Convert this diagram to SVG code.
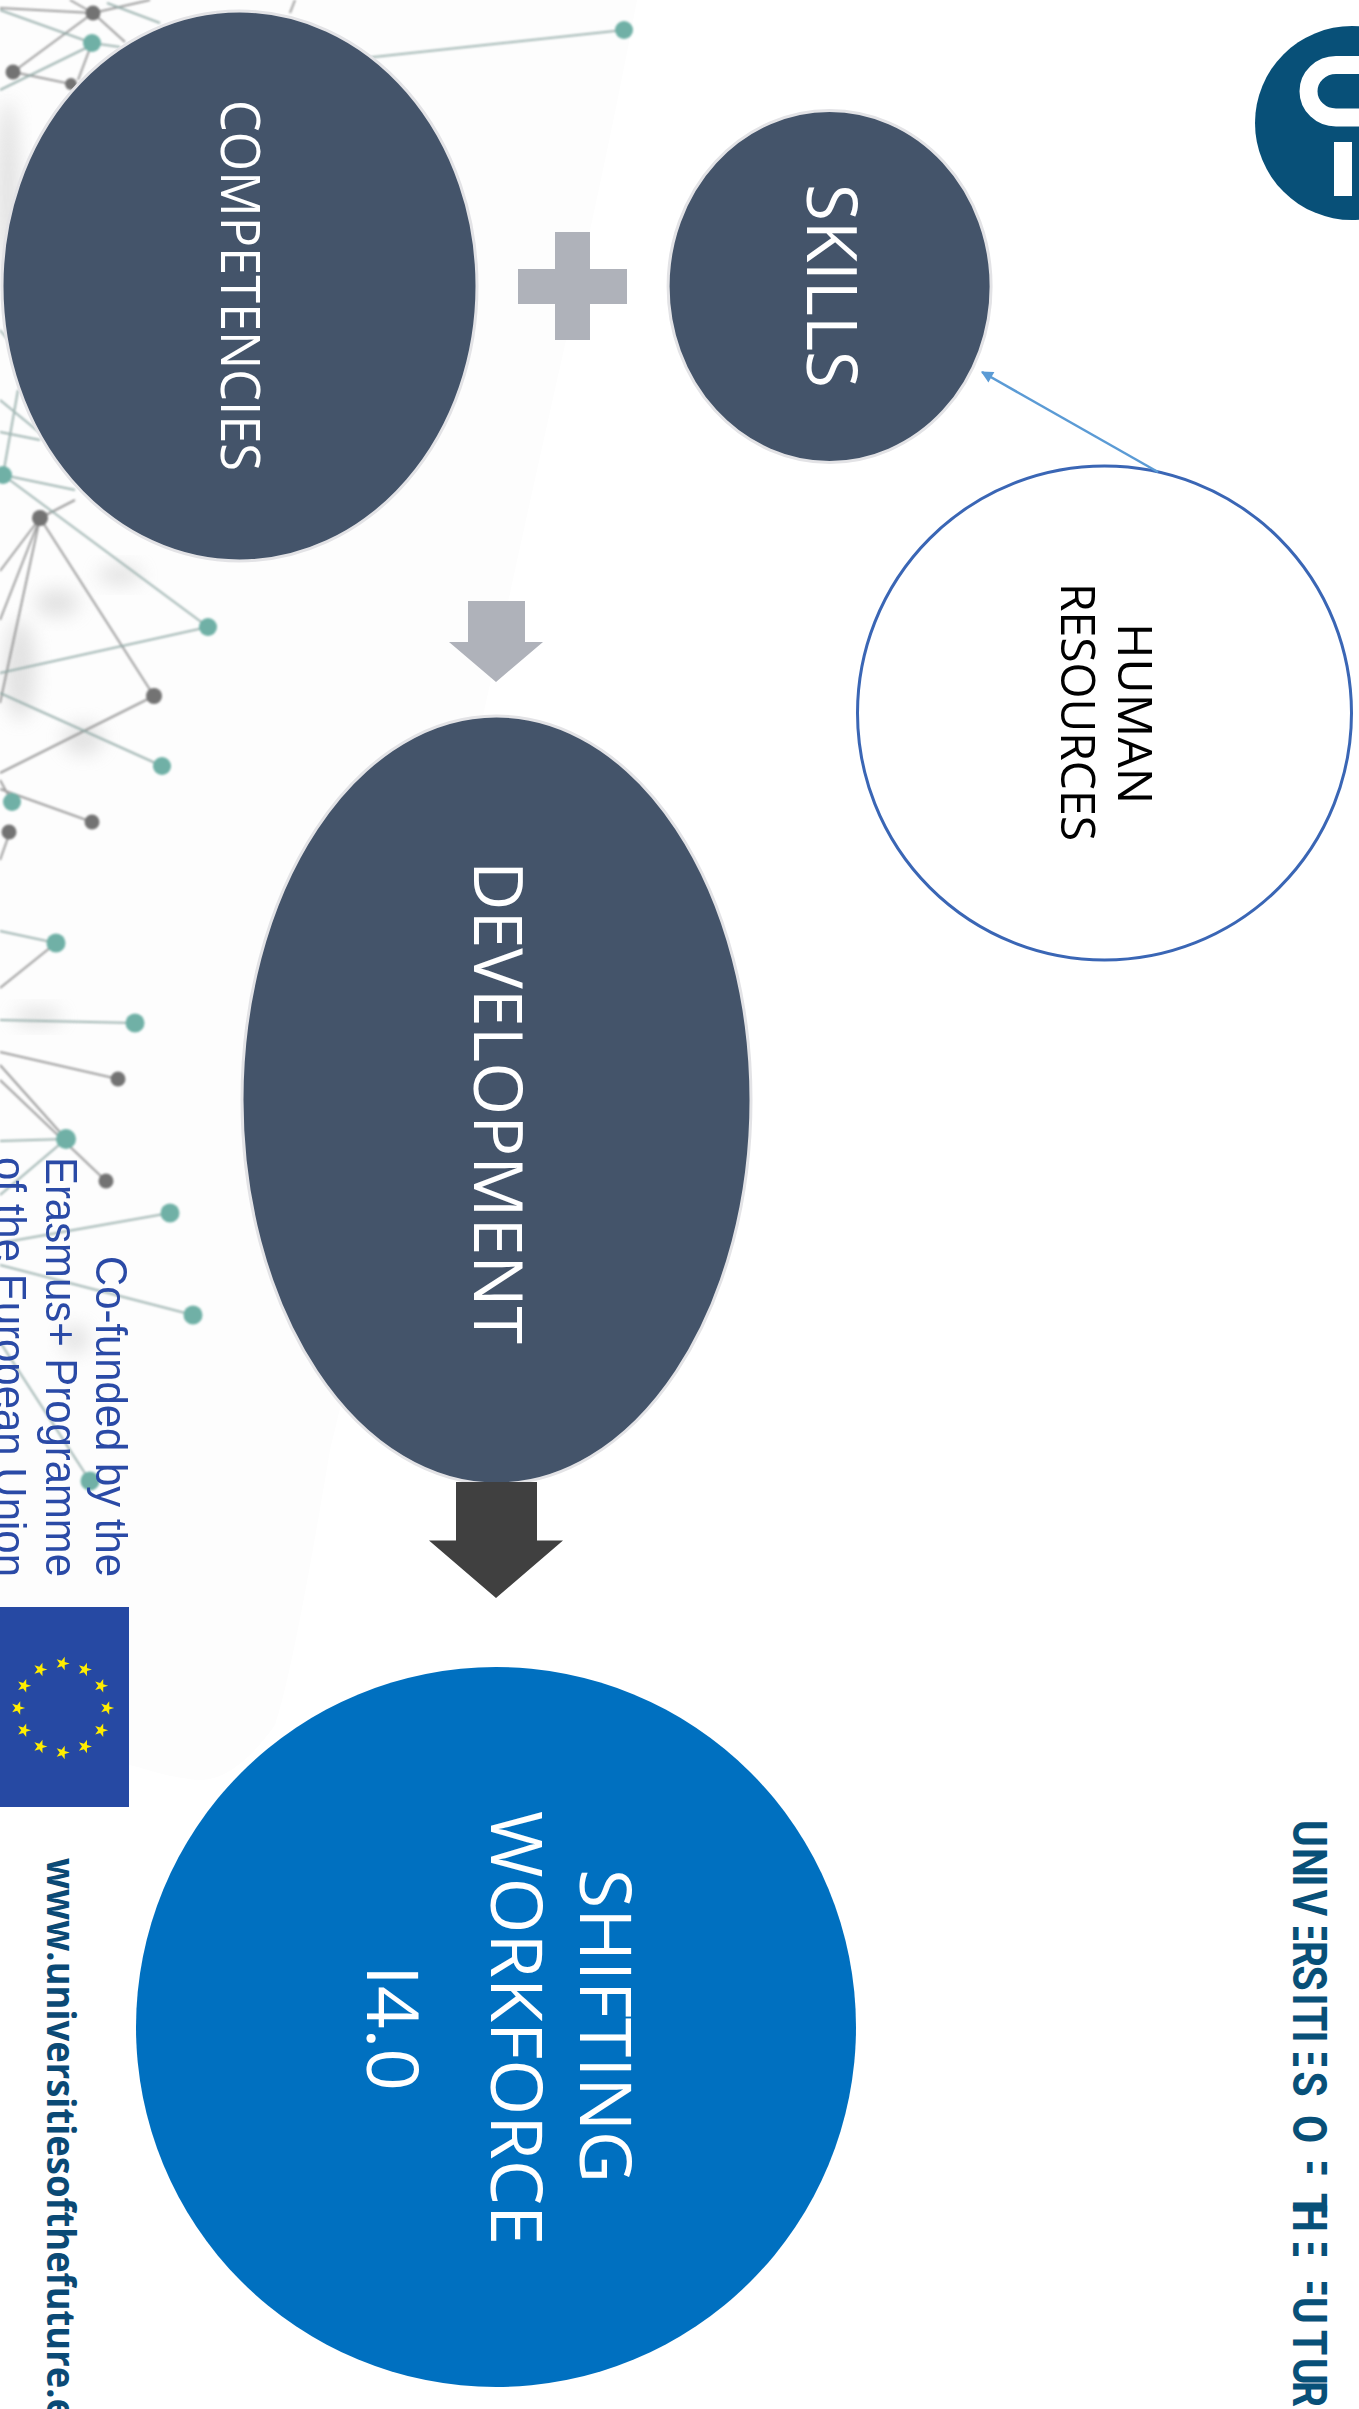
<svg xmlns="http://www.w3.org/2000/svg" width="1359" height="2409" viewBox="0 0 1359 2409">
<style>
.n{fill:#44546a;stroke:#e3e3e6;stroke-width:3}
.w{fill:#fff;font-family:"Open Sans","DejaVu Sans",sans-serif}
.k{fill:#000;font-family:"Open Sans","DejaVu Sans",sans-serif;font-size:48px}
.eu{fill:#2a4aa6;font-family:"Liberation Sans",Arial,sans-serif;font-size:45px}
.lg{stroke:#8c8c8c;stroke-width:2;fill:none;opacity:.85}
.lt{stroke:#8fa8a4;stroke-width:2;fill:none;opacity:.85}
.dg{fill:#737373}
.dt{fill:#6fb0a6}
.pale{fill:#b3b3b3;filter:url(#b)}
.cut{fill:#fff}
</style>
<defs>
<filter id="b" x="-50%" y="-50%" width="200%" height="200%"><feGaussianBlur stdDeviation="9"/></filter>
<filter id="s" x="-5%" y="-5%" width="110%" height="110%"><feGaussianBlur stdDeviation="0.8"/></filter>
<polygon id="star" points="7.2,0 2.23,1.62 2.22,6.85 -0.85,2.63 -5.82,4.24 -2.76,0 -5.82,-4.24 -0.85,-2.63 2.22,-6.85 2.23,-1.62" fill="#ffed00"/>
<marker id="ah" viewBox="0 0 10 10" refX="9" refY="5" markerWidth="16" markerHeight="12" markerUnits="userSpaceOnUse" orient="auto"><path d="M0 0L10 5L0 10Z" fill="#5b9bd5"/></marker>
</defs>
<rect width="1359" height="2409" fill="#fff"/>
<g id="background">
<path d="M637 0C600 200 540 450 500 640C440 900 380 1250 330 1450C310 1570 290 1680 275 1725C250 1760 225 1780 200 1780C170 1778 150 1770 130 1765L0 1765V0Z" fill="#fdfdfd"/>
<g opacity=".35">
<ellipse class="pale" cx="120" cy="575" rx="22" ry="10"/>
<ellipse class="pale" cx="83" cy="739" rx="20" ry="16"/>
<ellipse class="pale" cx="57" cy="603" rx="22" ry="14"/>
<ellipse class="pale" cx="38" cy="1017" rx="24" ry="9"/>
<ellipse class="pale" cx="75" cy="1339" rx="14" ry="14"/>
<ellipse class="pale" cx="8" cy="190" rx="12" ry="90"/>
<ellipse class="pale" cx="20" cy="670" rx="16" ry="50"/>
</g>
<g filter="url(#s)">
<path class="lg" d="M93 13L13 72M13 72L71 84M92 43L78 80M93 13L125 42M0 8L93 13M70 0L93 13M93 13L150 0M295 0L290 13"/>
<path class="lt" d="M0 90L92 45M0 10L92 43M107 3L160 23M92 43L120 47M624 30L300 65"/>
<path class="lg" d="M40 518L154 696M40 518L0 703M40 518L0 571M40 518L0 620M40 518L75 500M154 696L0 773M92 822L0 789M10 832L0 860M12 802L0 780"/>
<path class="lt" d="M3 475L208 627M208 627L0 673M162 766L0 693M18 390L3 475M0 400L45 437M0 432L40 440M3 475L75 490M0 330L40 380"/>
<path class="lt" d="M0 931L56 943M0 1020L135 1023M0 1141L66 1139M0 1195L66 1139M170 1213L0 1243M193 1315L0 1265M90 1481L0 1342"/>
<path class="lg" d="M0 988L56 943M0 1052L118 1079M0 1065L66 1139M0 1080L106 1181"/>
<circle class="dg" cx="93" cy="13" r="7.5"/><circle class="dt" cx="92" cy="43" r="9"/><circle class="dg" cx="13" cy="72" r="7.5"/><circle class="dg" cx="71" cy="84" r="6"/>
<circle class="dt" cx="624" cy="30" r="9"/><circle class="dt" cx="3" cy="475" r="9"/><circle class="dg" cx="40" cy="518" r="8"/><circle class="dt" cx="208" cy="627" r="9"/>
<circle class="dg" cx="154" cy="696" r="8"/><circle class="dt" cx="162" cy="766" r="9"/><circle class="dt" cx="12" cy="802" r="9"/><circle class="dg" cx="92" cy="822" r="7.5"/><circle class="dg" cx="9" cy="832" r="7.5"/>
<circle class="dt" cx="56" cy="943" r="9.5"/><circle class="dt" cx="135" cy="1023" r="9.5"/><circle class="dg" cx="118" cy="1079" r="7.5"/><circle class="dt" cx="66" cy="1139" r="10"/><circle class="dg" cx="106" cy="1181" r="7.5"/><circle class="dt" cx="170" cy="1213" r="9.5"/><circle class="dt" cx="193" cy="1315" r="9.5"/><circle class="dt" cx="90" cy="1481" r="9.5"/>
</g>
</g>
<g id="funding">
<text class="eu" transform="translate(96,1256) rotate(90)" textLength="321" lengthAdjust="spacingAndGlyphs">Co-funded by the</text>
<text class="eu" transform="translate(46,1157) rotate(90)" textLength="420" lengthAdjust="spacingAndGlyphs">Erasmus+ Programme</text>
<text class="eu" transform="translate(-5,1157) rotate(90)" textLength="420" lengthAdjust="spacingAndGlyphs">of the European Union</text>
<rect x="0" y="1607" width="129" height="200" fill="#2649a3"/>
<use href="#star" x="62.5" y="1663.5"/><use href="#star" x="84.75" y="1669.5"/><use href="#star" x="101" y="1685.75"/><use href="#star" x="107" y="1708"/><use href="#star" x="101" y="1730.25"/><use href="#star" x="84.75" y="1746.5"/><use href="#star" x="62.5" y="1752.5"/><use href="#star" x="40.25" y="1746.5"/><use href="#star" x="24" y="1730.25"/><use href="#star" x="18" y="1708"/><use href="#star" x="24" y="1685.75"/><use href="#star" x="40.25" y="1669.5"/>
<text transform="translate(47,1858) rotate(90)" font-family="'Open Sans','DejaVu Sans',sans-serif" font-weight="700" font-size="39" fill="#0b4a75" textLength="586" lengthAdjust="spacingAndGlyphs">www.universitiesofthefuture.eu</text>
</g>
<g id="logo">
<circle cx="1352" cy="123" r="97" fill="#085078"/>
<path d="M1360 65H1336A27.5 26.25 0 0 0 1336 117.5H1360" fill="none" stroke="#fff" stroke-width="18"/>
<rect x="1334" y="142" width="18" height="54" fill="#fff"/>
<text transform="translate(1293,0) rotate(90) scale(.85,1)" font-family="Roboto,'Open Sans',sans-serif" font-weight="700" font-size="48" fill="#085078" x="2141.2 2174.1 2205.3 2222.9 2256.5 2283.5 2312.4 2345.3 2360 2388.8 2404.7 2437.1 2470.6 2488.2 2532.9 2564.7 2580 2591.8 2628.2 2661.2 2674.1 2702.4 2741.2 2774.1 2801.2">UNIVERSITIES OF THE FUTUR</text>
<rect class="cut" x="1291" y="1919" width="38" height="8"/>
<rect class="cut" x="1291" y="2045" width="38" height="8"/>
<rect class="cut" x="1291" y="2154" width="38" height="8"/>
<rect class="cut" x="1291" y="2235" width="38" height="8"/>
<rect class="cut" x="1291" y="2274" width="38" height="8"/>
</g>
<g id="competencies">
<ellipse class="n" cx="239.5" cy="286" rx="237.5" ry="275"/>
<text class="w" font-size="54" transform="translate(221,100) rotate(90)" textLength="371" lengthAdjust="spacingAndGlyphs">COMPETENCIES</text>
</g>
<g id="plus"><path d="M555 232H590V269H627V304H590V340H555V304H518V269H555Z" fill="#afb2ba"/></g>
<g id="skills">
<ellipse class="n" cx="829.6" cy="286.4" rx="161.5" ry="176"/>
<text class="w" font-size="70" transform="translate(807,184) rotate(90)" textLength="204" lengthAdjust="spacingAndGlyphs">SKILLS</text>
</g>
<g id="human-resources">
<ellipse cx="1104.5" cy="713" rx="247" ry="247" fill="#fff" stroke="#3a66b5" stroke-width="3"/>
<text class="k" transform="translate(1118,623) rotate(90)" textLength="181" lengthAdjust="spacingAndGlyphs">HUMAN</text>
<text class="k" transform="translate(1061,583) rotate(90)" textLength="258" lengthAdjust="spacingAndGlyphs">RESOURCES</text>
</g>
<g id="development">
<ellipse class="n" cx="496.5" cy="1100" rx="254.5" ry="384"/>
<text class="w" font-size="68" transform="translate(474,861) rotate(90)" textLength="483" lengthAdjust="spacingAndGlyphs">DEVELOPMENT</text>
</g>
<g id="shifting-workforce">
<circle cx="496" cy="2027" r="360" fill="#0070c0"/>
<text class="w" font-size="72" transform="translate(580,1869) rotate(90)" textLength="314" lengthAdjust="spacingAndGlyphs">SHIFTING</text>
<text class="w" font-size="72" transform="translate(491,1811) rotate(90)" textLength="434" lengthAdjust="spacingAndGlyphs">WORKFORCE</text>
<text class="w" font-size="72" transform="translate(367,1965) rotate(90)" textLength="126" lengthAdjust="spacingAndGlyphs">I4.0</text>
</g>
<g id="connectors">
<path d="M468 601H525V642H543L496 682L449 642H468Z" fill="#afb2ba"/>
<path d="M456 1482H537V1540.5H563L496 1598L429 1540.5H456Z" fill="#404040"/>
<line x1="1158" y1="472" x2="982" y2="372" stroke="#5b9bd5" stroke-width="2.5" marker-end="url(#ah)"/>
</g>
</svg>
